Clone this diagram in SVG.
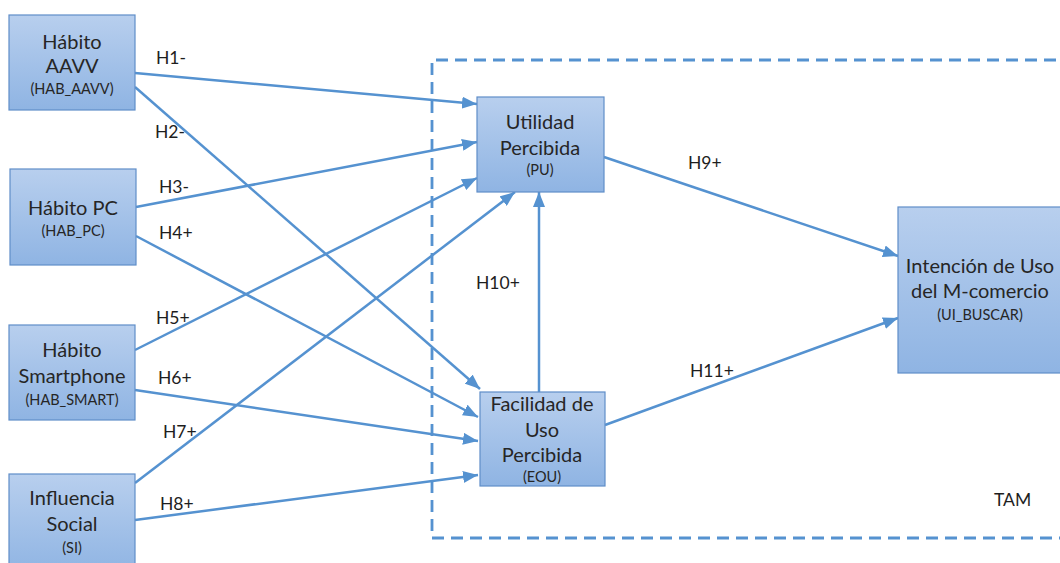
<svg xmlns="http://www.w3.org/2000/svg" width="1060" height="563" viewBox="0 0 1060 563">
  <defs>
    <linearGradient id="boxFill" x1="0" y1="0" x2="0" y2="1">
      <stop offset="0" stop-color="#b8cfee"/>
      <stop offset="1" stop-color="#8fb4e3"/>
    </linearGradient>
    <marker id="arrow" markerUnits="userSpaceOnUse" markerWidth="16" markerHeight="12" refX="15" refY="6" orient="auto">
      <path d="M0,0 L15,6 L0,12 Z" fill="#5592d0"/>
    </marker>
    <style>
      .box { fill: url(#boxFill); stroke: #5f8ec8; stroke-width: 1.2; }
      .lbl { font-family: Lato, "Open Sans", "Liberation Sans", sans-serif; font-size: 20px; fill: #262626; text-anchor: middle; }
      .code { font-family: Lato, "Open Sans", "Liberation Sans", sans-serif; font-size: 14.5px; fill: #262626; text-anchor: middle; }
      .h { font-family: Lato, "Open Sans", "Liberation Sans", sans-serif; font-size: 17.5px; fill: #1e1e1e; }
      .edge { fill: none; stroke: #5592d0; stroke-width: 2.5; marker-end: url(#arrow); }
      .tam { fill: none; stroke: #5592d0; stroke-width: 2.8; stroke-dasharray: 12 7; }
    </style>
  </defs>

  <rect width="1060" height="563" fill="#ffffff"/>

  <!-- TAM boundary -->
  <g id="tam-frame">
    <path class="tam" d="M1075,60 H432 V538 H1075"/>
    <text class="h" x="994" y="506" font-size="19">TAM</text>
  </g>

  <!-- hypotheses -->
  <g id="connectors">
    <line class="edge" x1="135" y1="73" x2="477" y2="104"/>
    <line class="edge" x1="135" y1="87" x2="480" y2="389"/>
    <line class="edge" x1="136" y1="207" x2="477" y2="142"/>
    <line class="edge" x1="136" y1="236" x2="478" y2="417"/>
    <line class="edge" x1="135" y1="350" x2="477" y2="178"/>
    <line class="edge" x1="135" y1="390" x2="478" y2="441"/>
    <line class="edge" x1="135" y1="483" x2="515" y2="192"/>
    <line class="edge" x1="135" y1="520" x2="478" y2="475"/>
    <line class="edge" x1="604" y1="157" x2="898" y2="256"/>
    <line class="edge" x1="539" y1="392" x2="539" y2="192"/>
    <line class="edge" x1="605" y1="425" x2="898" y2="318"/>
    <text class="h" x="156" y="64">H1-</text>
    <text class="h" x="155" y="138">H2-</text>
    <text class="h" x="159" y="193">H3-</text>
    <text class="h" x="159" y="239">H4+</text>
    <text class="h" x="156" y="324">H5+</text>
    <text class="h" x="158" y="384">H6+</text>
    <text class="h" x="163" y="438">H7+</text>
    <text class="h" x="160" y="510">H8+</text>
    <text class="h" x="688" y="169">H9+</text>
    <text class="h" x="476" y="289">H10+</text>
    <text class="h" x="690" y="377">H11+</text>
  </g>

  <g id="hab-aavv">
    <rect class="box" x="9" y="15" width="126" height="95"/>
    <text class="lbl" x="72" y="49">Hábito</text>
    <text class="lbl" x="72" y="73">AAVV</text>
    <text class="code" x="72" y="94">(HAB_AAVV)</text>
  </g>

  <g id="hab-pc">
    <rect class="box" x="10" y="169" width="126" height="96"/>
    <text class="lbl" x="73" y="215">Hábito PC</text>
    <text class="code" x="73" y="236">(HAB_PC)</text>
  </g>

  <g id="hab-smart">
    <rect class="box" x="9" y="325" width="126" height="95"/>
    <text class="lbl" x="72" y="357">Hábito</text>
    <text class="lbl" x="72" y="383">Smartphone</text>
    <text class="code" x="72" y="405">(HAB_SMART)</text>
  </g>

  <g id="influencia-social">
    <rect class="box" x="9" y="474" width="126" height="100"/>
    <text class="lbl" x="72" y="505">Influencia</text>
    <text class="lbl" x="72" y="531">Social</text>
    <text class="code" x="72" y="553">(SI)</text>
  </g>

  <g id="utilidad">
    <rect class="box" x="477" y="97" width="127" height="95"/>
    <text class="lbl" x="540" y="129">Utilidad</text>
    <text class="lbl" x="540" y="155">Percibida</text>
    <text class="code" x="540" y="175">(PU)</text>
  </g>

  <g id="facilidad">
    <rect class="box" x="480" y="392" width="125" height="94"/>
    <text class="lbl" x="542" y="411">Facilidad de</text>
    <text class="lbl" x="542" y="437">Uso</text>
    <text class="lbl" x="542" y="462">Percibida</text>
    <text class="code" x="542" y="482">(EOU)</text>
  </g>

  <g id="intencion">
    <rect class="box" x="898" y="207" width="170" height="166"/>
    <text class="lbl" x="980" y="273">Intención de Uso</text>
    <text class="lbl" x="980" y="298">del M-comercio</text>
    <text class="code" x="980" y="320">(UI_BUSCAR)</text>
  </g>
</svg>
